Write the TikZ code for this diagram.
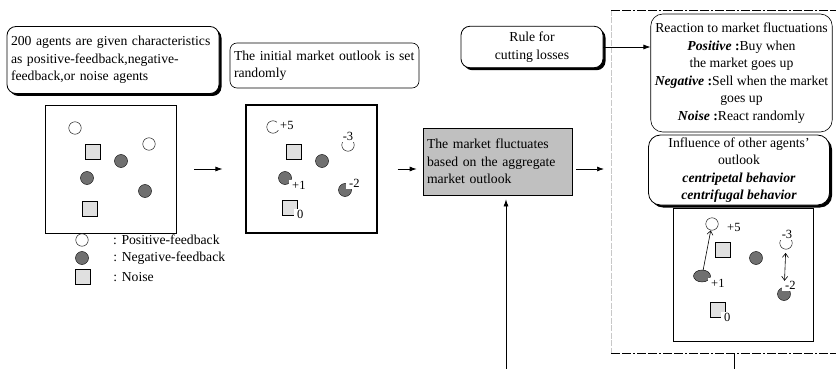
\documentclass[tikz,border=0pt]{standalone}
\usepackage{fontspec}
\setmainfont{Liberation Serif}
\usetikzlibrary{arrows.meta}
\usetikzlibrary{positioning,calc}
\usetikzlibrary{shapes.geometric,shadows}

\definecolor{negfill}{RGB}{112,112,112}
\definecolor{noisefill}{RGB}{224,224,224}
\definecolor{marketfill}{RGB}{192,192,192}
\definecolor{framegray}{RGB}{200,200,200}

\tikzset{
  txt/.style={font=\fontsize{13.7}{17.5}\selectfont},
  roundbox/.style={txt, draw, fill=white, line width=0.6pt, rounded corners=9pt, inner xsep=4pt, inner ysep=2pt},
  shadowbox/.style={roundbox, line width=0.8pt,
    drop shadow={shadow xshift=2.5pt, shadow yshift=-2.5pt, fill=black, opacity=1}},
  posagent/.style={circle, draw, fill=white, minimum size=12.5pt, inner sep=0pt},
  negagent/.style={circle, draw, fill=negfill, minimum size=13pt, inner sep=0pt},
  noiseagent/.style={rectangle, draw, fill=noisefill, minimum size=15pt, inner sep=0pt},
  outlook/.style={font=\fontsize{12.5}{14}\selectfont, fill=white, inner xsep=3pt, inner ysep=1pt},
  flow/.style={-{Latex[length=7pt,width=5pt]}, line width=0.7pt},
  pull/.style={-{Straight Barb[length=4pt,width=6pt]}, line width=0.6pt},
  push/.style={{Straight Barb[length=4pt,width=6pt]}-{Straight Barb[length=4pt,width=6pt]}, line width=0.6pt},
  framedash/.style={line width=0.8pt, dash pattern=on 9pt off 2pt on 9pt off 2pt on 2pt off 2pt}
}

\begin{document}
\begin{tikzpicture}[x=1pt,y=-1pt]
   \useasboundingbox (0,0) rectangle (836,369);

   % dashed frame round the agent rules
   \coordinate (framenw) at (611,10);
   \coordinate (framesw) at (611,353);
   \coordinate (framene) at (836,10);
   \coordinate (framese) at (836,353);
   \draw[framegray, line width=0.6pt, dash pattern=on 6pt off 1.5pt] (framenw) -- (framesw);
   \draw[framedash] (framenw) -- (framene);
   \draw[framedash] (framesw) -- (framese);

   % steps along the top
   \node[shadowbox, align=left, text width=204pt, minimum width=212pt, minimum height=67pt]
      (agents) at (113,60) {200 agents are given characteristics\\as positive-feedback,negative-\\feedback,or noise agents};
   \node[roundbox, rounded corners=7pt, align=left, text width=181pt, minimum width=189pt, minimum height=45pt]
      (initial) at (324.5,65.5) {The initial market outlook is set\\randomly};
   \node[shadowbox, align=center, minimum width=142pt, minimum height=41.5pt]
      (rule) at (532,47) {Rule for\\cutting losses};

   % market
   \node[draw, line width=0.7pt, fill=marketfill, txt, align=left, text width=141pt, inner xsep=3pt,
      minimum width=149pt, minimum height=67pt] (market) at (497.5,161.5)
      {The market fluctuates\\based on the aggregate\\market outlook};

   % agent rules
   \node[roundbox, rounded corners=12pt, align=center, minimum width=179pt, minimum height=118pt]
      (reaction) at (741.5,73) {Reaction to market fluctuations\\
      \textbf{\textit{Positive}} \textbf{:}Buy when\\the market goes up\\
      \textbf{\textit{Negative}} \textbf{:}Sell when the market\\goes up\\
      \textbf{\textit{Noise}} \textbf{:}React randomly};
   \node[shadowbox, rounded corners=12pt, align=center, minimum width=181pt, minimum height=70pt]
      (influence) at (739,170) {Influence of other agents'\\outlook\\
      \textbf{\textit{centripetal behavior}}\\\textbf{\textit{centrifugal behavior}}};

   % panels
   \node[draw, line width=0.6pt, minimum width=131pt, minimum height=128pt] (panelA) at (110.5,169) {};
   \node[draw, line width=1.2pt, minimum width=131pt, minimum height=128pt] (panelB) at (311.5,169) {};
   \node[draw, line width=0.6pt, minimum width=140pt, minimum height=133pt] (panelC) at (743,274.5) {};

   % agents in panel A
   \node[posagent]   (pa1) at (75,128) {};
   \node[posagent]   (pa2) at (149,144) {};
   \node[noiseagent] (pa3) at (93,152) {};
   \node[negagent]   (pa4) at (121,161) {};
   \node[negagent]   (pa5) at (87,178) {};
   \node[negagent]   (pa6) at (145,191) {};
   \node[noiseagent] (pa7) at (90,209) {};

   % legend
   \node[posagent]   (legpos)   at (82,240) {};
   \node[negagent]   (legneg)   at (82,258) {};
   \node[noiseagent] (legnoise) at (83,277) {};
   \node[txt, right=24.5pt of legpos, inner sep=0pt]  (legpostext)   {: Positive-feedback};
   \node[txt, right=24.5pt of legneg, inner sep=0pt]  (legnegtext)   {: Negative-feedback};
   \node[txt, right=22.5pt of legnoise, inner sep=0pt] (legnoisetext) {: Noise};

   % agents in panel B, with their outlook
   \node[posagent]   (pb1) at (273,127) {};
   \node[noiseagent] (pb2) at (294,152) {};
   \node[negagent]   (pb3) at (322,161) {};
   \node[posagent]   (pb4) at (348,145) {};
   \node[negagent]   (pb5) at (285,178) {};
   \node[negagent]   (pb6) at (345,190) {};
   \node[noiseagent] (pb7) at (290,208) {};
   \node[outlook, anchor=west]       (ob1) at (277,125) {+5};
   \node[outlook, anchor=south]      (ob4) at (348,142) {-3};
   \node[outlook, anchor=north west] (ob5) at (289,180) {+1};
   \node[outlook, anchor=south west] (ob6) at (346,189) {-2};
   \node[outlook, anchor=north west] (ob7) at (294,209) {0};

   % agents in panel C
   \node[posagent]   (pc1) at (712,224) {};
   \node[noiseagent] (pc2) at (723,250) {};
   \node[negagent]   (pc3) at (756,258) {};
   \node[posagent]   (pc4) at (786,243) {};
   \node[negagent, ellipse, minimum width=17pt, minimum height=12pt] (pc5) at (702,276) {};
   \node[negagent]   (pc6) at (784,294) {};
   \node[noiseagent] (pc7) at (718,310) {};
   \node[outlook, anchor=west]       (oc1) at (724,227) {+5};
   \node[outlook, anchor=south]      (oc4) at (787,240) {-3};
   \node[outlook, anchor=north west] (oc5) at (708,278) {+1};
   \node[outlook, anchor=south west] (oc6) at (782,291) {-2};
   \node[outlook, anchor=north west] (oc7) at (721,312) {0};
   \draw[pull] (pc5) -- (pc1);
   \draw[push, shorten <=3.5pt, shorten >=6.5pt] (pc4) -- (pc6);

   % flow between the steps
   \draw[flow, shorten <=18pt, shorten >=23pt] (panelA) -- (panelB);
   \draw[flow, shorten <=20pt, shorten >=6pt] (panelB.east) -- (panelB.east -| market.west);
   \draw[flow, shorten <=4pt, shorten >=7pt] (panelB.east -| market.east) -- (panelB.east -| framenw);
   \draw[flow] (rule.east) -- (rule.east -| reaction.west);

   % loop back below
   \coordinate (feedin)  at (506,369);
   \coordinate (feedout) at (734,369);
   \draw[flow, shorten >=4pt] (feedin) -- (feedin |- market.south);
   \draw[line width=0.7pt] (feedout |- framesw) -- (feedout);
\end{tikzpicture}
\end{document}
